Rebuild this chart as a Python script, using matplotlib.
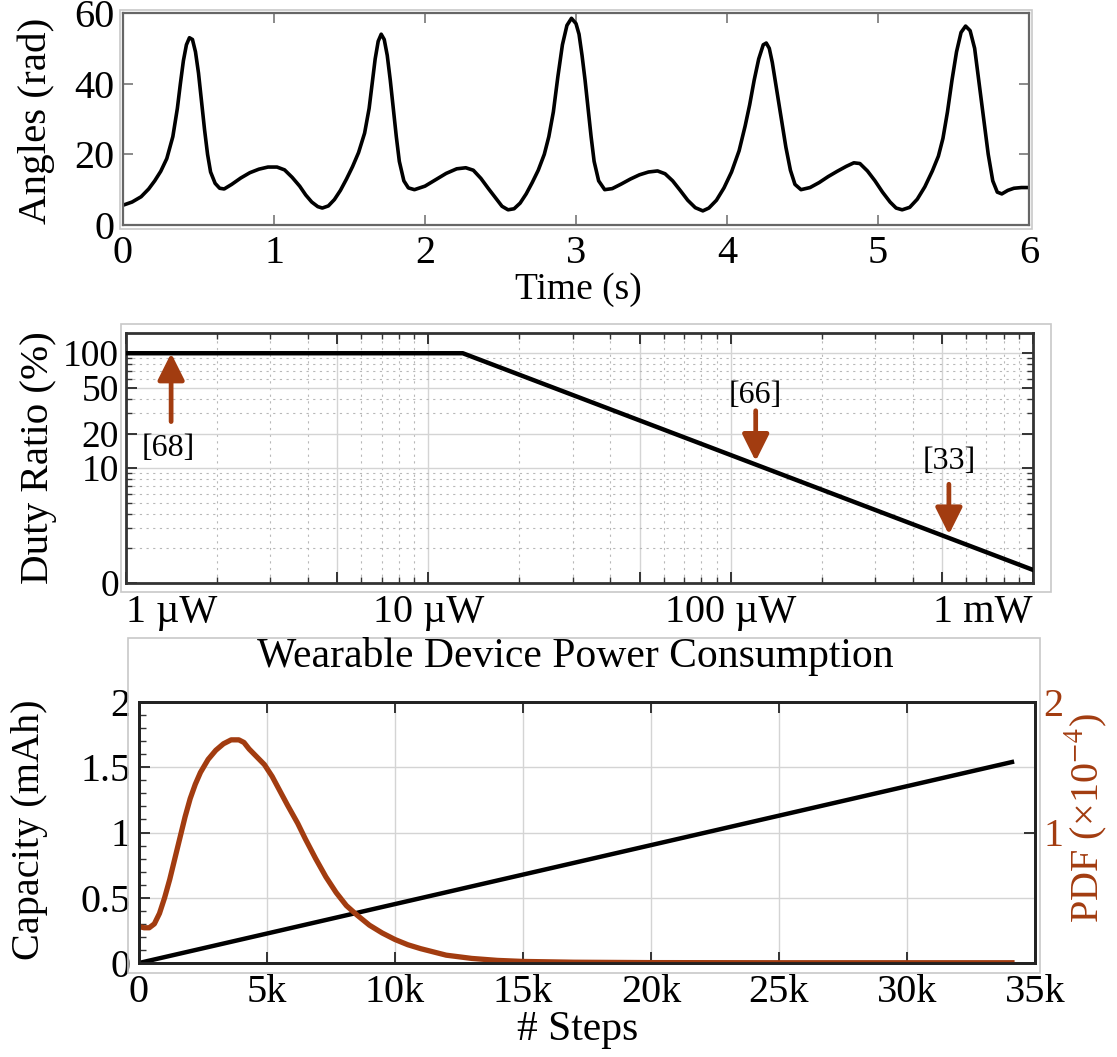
import matplotlib
matplotlib.use('Agg')
import matplotlib.pyplot as plt
from matplotlib.patches import Rectangle
from matplotlib.ticker import FixedLocator, NullFormatter

plt.rcParams['font.family'] = ['Liberation Serif', 'DejaVu Serif']
plt.rcParams['mathtext.fontset'] = 'stix'

BROWN = '#A23C10'

# ---------------- data: top panel (joint angle vs time) ----------------
time_s = [0, 0.06, 0.12, 0.17, 0.21, 0.25, 0.29, 0.33, 0.36, 0.38, 0.40, 0.42, 0.44, 0.46,
          0.48, 0.50, 0.52, 0.54, 0.56, 0.58, 0.61, 0.64, 0.67, 0.72, 0.78, 0.84, 0.90, 0.96,
          1.02, 1.07, 1.12, 1.17, 1.21, 1.25, 1.29, 1.32, 1.36, 1.40, 1.44, 1.48, 1.52, 1.56,
          1.60, 1.63, 1.65, 1.67, 1.69, 1.71, 1.73, 1.75, 1.77, 1.79, 1.81, 1.83, 1.86, 1.89,
          1.93, 2.00, 2.07, 2.14, 2.21, 2.27, 2.32, 2.37, 2.42, 2.47, 2.51, 2.55, 2.59, 2.63,
          2.67, 2.71, 2.75, 2.79, 2.82, 2.85, 2.88, 2.91, 2.94, 2.97, 3.00, 3.02, 3.04, 3.06,
          3.08, 3.10, 3.12, 3.15, 3.19, 3.24, 3.30, 3.36, 3.42, 3.48, 3.54, 3.59, 3.64, 3.69,
          3.74, 3.79, 3.84, 3.88, 3.93, 3.98, 4.03, 4.08, 4.12, 4.15, 4.18, 4.21, 4.24, 4.26,
          4.28, 4.30, 4.33, 4.36, 4.39, 4.42, 4.45, 4.49, 4.55, 4.61, 4.67, 4.73, 4.79, 4.84,
          4.88, 4.93, 4.98, 5.03, 5.08, 5.12, 5.16, 5.21, 5.26, 5.31, 5.36, 5.40, 5.43, 5.46,
          5.49, 5.52, 5.55, 5.58, 5.61, 5.64, 5.67, 5.70, 5.73, 5.76, 5.79, 5.82, 5.86, 5.90,
          5.95, 6.00]
angle_rad = [5.6, 6.5, 8.0, 10.2, 12.5, 15.2, 18.8, 25, 33, 40, 46.5, 51, 53, 52.5,
             49, 43, 35, 27, 20, 15, 11.8, 10.4, 10.2, 11.5, 13.3, 14.8, 15.8, 16.4,
             16.4, 15.6, 13.5, 11.0, 8.5, 6.5, 5.2, 4.8, 5.4, 7.2, 9.8, 13.0, 16.5, 20.5,
             26, 33, 40, 47, 52, 54, 52.5, 48, 41, 33, 25, 18, 12.5, 10.5,
             10.0, 11.0, 12.8, 14.6, 15.9, 16.2, 15.5, 13.2, 10.3, 7.5, 5.3, 4.3, 4.6, 6.2,
             8.8, 12.0, 15.5, 20, 25, 32, 42, 51, 56.5, 58.5, 57, 54, 48, 41,
             33, 25, 18, 12.5, 10.0, 10.3, 11.6, 13.0, 14.2, 15.0, 15.3, 14.5, 12.5, 9.8,
             7.0, 4.9, 4.0, 4.8, 7.0, 10.5, 15, 21, 28, 34, 41, 47, 51, 51.5,
             50, 46, 38, 30, 22, 15.5, 11.5, 10.0, 10.6, 12.0, 13.7, 15.2, 16.6, 17.6,
             17.4, 15.3, 12.5, 9.3, 6.5, 4.8, 4.3, 5.0, 7.3, 10.8, 15.3, 19.5, 24.5, 32,
             41, 49, 54.5, 56.3, 55, 50, 40, 30, 20, 12.5, 9.3, 8.8, 9.8, 10.4,
             10.6, 10.6]
time_ticks = [0, 1, 2, 3, 4, 5, 6]
angle_ticks = [0, 20, 40, 60]

# ---------------- data: middle panel (duty ratio vs power) ----------------
power_uW = [1, 13, 1000]
duty_pct = [100, 100, 1.3]
power_major = [1, 5, 10, 50, 100, 500, 1000]
power_labels = ['1 \u00b5W', '', '10 \u00b5W', '', '100 \u00b5W', '', '1 mW']
duty_ticks = [1, 10, 20, 50, 100]
duty_labels = ['0', '10', '20', '50', '100']
refs = ['[68]', '[66]', '[33]']
ref_power = [1.41, 121, 527]
ref_tail = [25.4, 31.6, 7.24]
ref_head = [100, 11.5, 2.64]
ref_label_pos = [(1.38, 14.7), (121, 42.8), (527, 11.5)]

# ---------------- data: bottom panel (capacity and PDF vs steps) ----------------
cap_steps = [0, 34100]
capacity_mAh = [0, 1.54]
pdf_steps = [0, 200, 400, 600, 800, 1000, 1200, 1400, 1600, 1800, 2000, 2200, 2400, 2700,
             3000, 3300, 3600, 3900, 4100, 4300, 4600, 4900, 5200, 5500, 5800, 6200, 6500,
             6900, 7300, 7700, 8100, 8500, 9000, 9500, 10000, 10500, 11000, 12000, 13000,
             14000, 15000, 17000, 20000, 25000, 30000, 34100]
pdf_e4 = [0.28, 0.27, 0.27, 0.30, 0.38, 0.50, 0.64, 0.80, 0.96, 1.12, 1.26, 1.37, 1.46, 1.56,
          1.63, 1.68, 1.71, 1.71, 1.69, 1.64, 1.58, 1.52, 1.43, 1.32, 1.21, 1.07, 0.95,
          0.80, 0.66, 0.54, 0.44, 0.37, 0.29, 0.23, 0.18, 0.14, 0.11, 0.06, 0.035,
          0.02, 0.012, 0.006, 0.003, 0.002, 0.002, 0.002]
step_ticks = [0, 5000, 10000, 15000, 20000, 25000, 30000, 35000]
step_labels = ['0', '5k', '10k', '15k', '20k', '25k', '30k', '35k']
cap_ticks = [0, 0.5, 1, 1.5, 2]
cap_labels = ['0', '0.5', '1', '1.5', '2']
pdf_ticks = [1, 2]
pdf_labels = ['1', '2']

# ---------------- layout helpers ----------------
W, H = 1117, 1057
fig = plt.figure(figsize=(W / 100, H / 100), dpi=100)


def fr(l, t, r, b):
    return [l / W, 1 - b / H, (r - l) / W, (b - t) / H]


def frame(l, t, r, b, color='#c8c8c8'):
    fig.add_artist(Rectangle((l / W, 1 - b / H), (r - l) / W, (b - t) / H,
                             transform=fig.transFigure, fill=False, ec=color, lw=1.2))


def ftext(x, y, s, **kw):
    fig.text(x / W, 1 - y / H, s, ha=kw.pop('ha', 'center'), va=kw.pop('va', 'center'), **kw)


# ---------------- top panel ----------------
frame(120, 10, 1032, 229)
ax1 = fig.add_axes(fr(123, 13, 1029, 225))
ax1.plot(time_s, angle_rad, color='black', lw=2.6)
ax1.set_xlim(0, 6)
ax1.set_ylim(0, 60)
ax1.set_xticks(time_ticks)
ax1.set_yticks(angle_ticks)
ax1.tick_params(direction='in', length=7, width=1.2, color='#777777', top=True, right=True,
                labelsize=29)
ax1.tick_params(axis='x', pad=7)
ax1.tick_params(axis='y', pad=6)
for s in ax1.spines.values():
    s.set_color('#666666')
    s.set_linewidth(1.6)
ftext(36, 121, 'Angles (rad)', rotation=90, fontsize=29.5)
ftext(578, 290, 'Time (s)', fontsize=27)

# ---------------- middle panel ----------------
frame(121, 324, 1051, 592)
ax2 = fig.add_axes(fr(126, 333, 1033, 583))
ax2.set_xscale('log')
ax2.set_yscale('log')
ax2.plot(power_uW, duty_pct, color='black', lw=3.2, zorder=5)
ax2.set_xlim(1, 1000)
ax2.set_ylim(1, 150)
ax2.set_xticks(power_major, power_labels)
xl = ax2.get_xticklabels()
xl[0].set_ha('left')
xl[-1].set_ha('right')
ax2.set_yticks(duty_ticks, duty_labels)
xminor = [m * d for d in (1, 10, 100) for m in (2, 3, 4, 6, 7, 8, 9)]
yminor = [2, 3, 4, 5, 6, 7, 8, 9, 30, 40, 60, 70, 80, 90]
ax2.xaxis.set_minor_locator(FixedLocator(xminor))
ax2.yaxis.set_minor_locator(FixedLocator(yminor))
ax2.xaxis.set_minor_formatter(NullFormatter())
ax2.yaxis.set_minor_formatter(NullFormatter())
ax2.grid(True, which='major', color='#d4d4d4', lw=1.0, ls='-')
ax2.grid(True, which='minor', color='#b8b8b8', lw=0.8, ls=(0, (2, 4)))
ax2.tick_params(which='both', direction='in', top=True, right=True, color='#333333')
ax2.tick_params(which='major', length=8, width=1.4, labelsize=29)
ax2.tick_params(axis='y', labelsize=27)
ax2.tick_params(which='minor', length=4, width=1.0)
ax2.tick_params(axis='x', pad=8)
ax2.tick_params(axis='y', pad=5)
for s in ax2.spines.values():
    s.set_color('#333333')
    s.set_linewidth(2.0)
for name, px, tail, head, (lx, ly) in zip(refs, ref_power, ref_tail, ref_head, ref_label_pos):
    ax2.annotate('', xy=(px, head), xytext=(px, tail),
                 arrowprops=dict(arrowstyle='-|>,head_length=0.9,head_width=0.45',
                                 color=BROWN, lw=3.4, mutation_scale=18,
                                 shrinkA=0, shrinkB=0), zorder=6)
    ax2.text(lx, ly, name, ha='center', va='center', fontsize=23, zorder=7)
ftext(39, 458, 'Duty Ratio (%)', rotation=90, fontsize=29.5)

# ---------------- bottom panel ----------------
frame(128, 638, 1040, 973)
ftext(575, 657, 'Wearable Device Power Consumption', fontsize=30)
ax3 = fig.add_axes(fr(139, 702, 1035, 963))
ax3.plot(cap_steps, capacity_mAh, color='black', lw=3.2, zorder=4)
ax3.set_xlim(0, 35000)
ax3.set_ylim(0, 2)
ax3.set_xticks(step_ticks, step_labels)
ax3.set_yticks(cap_ticks, cap_labels)
ax3.yaxis.set_minor_locator(FixedLocator([i / 10 for i in range(21)]))
ax3.grid(True, which='major', color='#d4d4d4', lw=1.0)
ax3.tick_params(which='both', direction='in', top=True, color='#333333')
ax3.tick_params(which='major', length=8, width=1.4, labelsize=29)
ax3.tick_params(which='minor', length=5, width=1.0)
ax3.tick_params(axis='x', pad=8)
ax3.tick_params(axis='y', pad=6)
ax4 = ax3.twinx()
ax4.plot(pdf_steps, pdf_e4, color=BROWN, lw=3.8)
ax4.set_ylim(0, 2)
ax4.set_yticks(pdf_ticks, pdf_labels)
ax4.tick_params(direction='in', length=8, width=1.4, color='#333333', labelcolor=BROWN,
                labelsize=29, pad=6)
for a in (ax3, ax4):
    for s in a.spines.values():
        s.set_color('#222222')
        s.set_linewidth(2.0)
ftext(30, 830, 'Capacity (mAh)', rotation=90, fontsize=29)
ftext(1086, 818, r'PDF (×10$^{-4}$)', rotation=90, fontsize=29, color=BROWN)
ftext(578, 1030, '# Steps', fontsize=30)

fig.savefig('out.png', dpi=100)
